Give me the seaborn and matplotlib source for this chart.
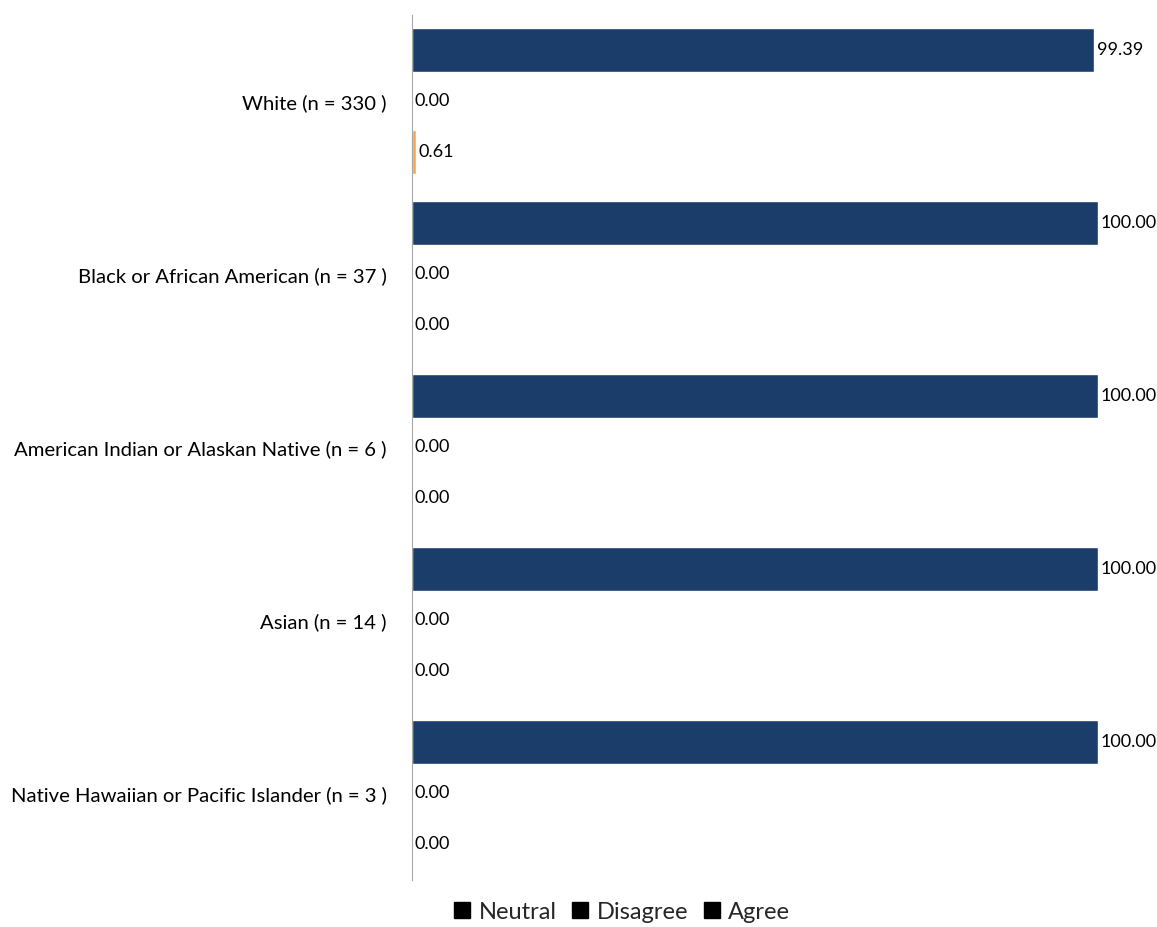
import pandas as pd
import seaborn as sns
import matplotlib
import matplotlib.pyplot as plt
from matplotlib.lines import Line2D

# Survey results by race, percent of respondents
groups = ["White (n = 330 )", "Black or African American (n = 37 )",
          "American Indian or Alaskan Native (n = 6 )", "Asian (n = 14 )",
          "Native Hawaiian or Pacific Islander (n = 3 )"]
agree = [99.39, 100.00, 100.00, 100.00, 100.00]
disagree = [0.00, 0.00, 0.00, 0.00, 0.00]
neutral = [0.61, 0.00, 0.00, 0.00, 0.00]
responses = ["Agree", "Disagree", "Neutral"]

df = pd.DataFrame({"group": groups * 3,
                   "response": ["Agree"] * 5 + ["Disagree"] * 5 + ["Neutral"] * 5,
                   "pct": agree + disagree + neutral})

sns.set_style("white")
matplotlib.rcParams['font.family'] = ['Lato', 'DejaVu Sans']

fig = plt.figure(figsize=(11.57, 9.27), dpi=100)
ax = fig.add_axes([0.356, 0.051, 0.644, 0.933])

palette = {"Agree": "#1b3d6a", "Disagree": "#7f7f7f", "Neutral": "#f8a94c"}
sns.barplot(data=df, y="group", x="pct", hue="response", hue_order=responses,
            palette=palette, orient="h", width=0.885, gap=0.14,
            saturation=1, legend=False, ax=ax)

# value labels next to each bar
for c in ax.containers:
    ax.bar_label(c, fmt="%.2f", padding=2, fontsize=13, color="black")

ax.set_xlim(0, 108.6)
ax.set_ylim(4.5, -0.5)
ax.set_xlabel("")
ax.set_ylabel("")
ax.set_xticks([])
ax.tick_params(axis="y", length=0, labelsize=14.6, pad=18, labelcolor="black")
for s in ["top", "right", "bottom"]:
    ax.spines[s].set_visible(False)
ax.spines["left"].set_color("#a6a6a6")

# legend drawn like the reference (square markers)
handles = [Line2D([], [], marker="s", linestyle="", color="black", markersize=11)
           for _ in range(3)]
fig.legend(handles, ["Neutral", "Disagree", "Agree"], loc="center",
           bbox_to_anchor=(0.537, 0.016), ncol=3, frameon=False, fontsize=17,
           handlelength=0.8, handletextpad=0.3, columnspacing=0.6)

fig.savefig("out.png", dpi=100)
